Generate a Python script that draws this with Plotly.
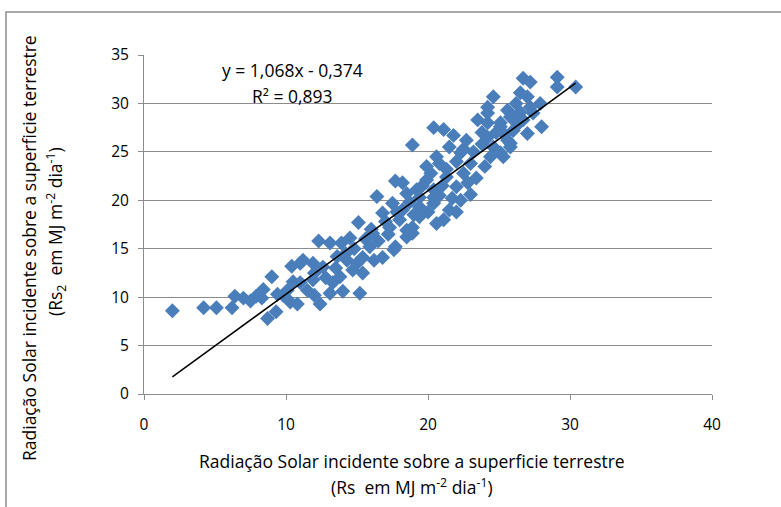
import plotly.graph_objects as go

# Observed data: Rs (x) vs Rs2 (y), MJ m-2 dia-1
rs = [2.0, 4.2, 5.1, 6.2, 6.4, 7.0, 7.5, 7.9, 8.4, 9.0, 8.7, 9.3, 9.4, 8.3, 10.3, 10.4, 10.5, 10.1,
      11.0, 11.2, 11.9, 11.9, 11.0, 11.5, 12.3, 12.4, 12.6, 13.1, 13.9, 14.5, 13.8, 13.3, 13.1, 14.0,
      14.3, 14.7, 15.0, 15.2, 15.4, 15.4, 15.1, 15.9, 16.1, 16.4, 16.8, 16.8, 17.3, 17.5, 17.7, 17.7,
      18.0, 18.2, 18.5, 18.5, 18.5, 18.9, 18.9, 18.9, 19.2, 19.4, 19.4, 19.4, 19.9, 19.9, 20.4, 20.4,
      20.4, 20.4, 20.6, 20.6, 20.8, 21.1, 21.1, 21.3, 21.5, 21.5, 21.8, 22.0, 22.3, 22.3, 22.5, 22.7,
      23.0, 23.0, 23.5, 24.2, 24.2, 24.2, 24.4, 24.6, 24.6, 24.2, 25.1, 25.1, 25.1, 25.3, 25.6, 25.6,
      25.8, 25.8, 25.8, 26.0, 26.0, 26.5, 26.5, 26.7, 26.7, 27.0, 27.0, 27.2, 27.2, 27.4, 27.9, 28.0,
      29.1, 29.1, 30.4,
      12.0, 12.8, 13.5, 14.2, 14.8, 15.6, 16.0, 16.5, 17.0, 17.2, 17.8, 18.2, 18.7, 19.0, 19.6, 20.0,
      20.2, 20.8, 21.0, 21.3, 21.7, 22.0, 22.5, 22.8, 23.2, 23.4, 23.8, 24.0, 24.8, 25.4, 26.2, 26.3,
      23.8, 22.0, 10.8, 9.8, 12.0, 13.6, 16.2, 17.6]
rs2 = [8.6, 8.9, 8.9, 8.9, 10.1, 9.9, 9.6, 10.1, 10.8, 12.1, 7.8, 8.5, 10.3, 9.9, 9.5, 13.2, 11.6, 10.7,
       13.5, 13.8, 13.5, 11.8, 11.5, 10.7, 15.8, 9.3, 13.1, 15.6, 15.6, 16.1, 12.1, 11.5, 10.4, 10.6,
       13.8, 12.8, 13.5, 10.4, 12.5, 14.1, 17.7, 15.2, 16.6, 20.4, 18.7, 14.1, 17.2, 19.7, 22.0, 15.2,
       18.0, 21.8, 20.7, 16.9, 16.2, 17.2, 16.6, 25.7, 21.1, 19.3, 20.3, 18.3, 22.1, 23.5, 20.3, 21.1,
       19.7, 27.5, 24.5, 17.6, 23.8, 27.3, 18.0, 22.4, 25.5, 19.0, 26.7, 21.4, 24.9, 20.0, 22.8, 26.2,
       23.8, 20.6, 28.3, 29.0, 28.0, 26.5, 24.5, 25.5, 30.7, 29.6, 28.0, 27.6, 24.9, 24.5, 29.3, 26.2,
       28.6, 25.9, 25.5, 28.6, 27.2, 29.1, 31.1, 32.6, 28.3, 30.7, 26.9, 32.2, 29.6, 29.0, 30.0, 27.6,
       32.7, 31.7, 31.7,
       12.5, 12.0, 13.0, 14.5, 15.0, 16.0, 17.0, 15.8, 17.8, 16.5, 18.8, 19.0, 19.8, 18.5, 21.5, 18.8,
       22.8, 20.5, 21.5, 23.2, 20.2, 24.0, 25.3, 21.8, 25.0, 22.3, 27.0, 23.5, 27.0, 26.8, 30.0, 27.8,
       25.8, 18.8, 9.3, 10.2, 10.2, 14.2, 13.8, 14.9]

# Linear trend shown on the chart
slope = 1.068
intercept = -0.374
trend_x = [min(rs), max(rs)]
trend_y = [slope * v + intercept for v in trend_x]

x_ticks = [0, 10, 20, 30, 40]
y_ticks = [0, 5, 10, 15, 20, 25, 30, 35]

FONT = "Open Sans"
TICK_FS = 15.5
TITLE_FS = 17.5
EQ_FS = 17.5
GRID = "#8c8c8c"

fig = go.Figure()
fig.add_trace(go.Scatter(
    x=rs, y=rs2, mode="markers",
    marker=dict(symbol="diamond", size=11.5, color="#4A7EBB", line=dict(width=0)),
    showlegend=False, hoverinfo="x+y"))
fig.add_trace(go.Scatter(
    x=trend_x, y=trend_y, mode="lines",
    line=dict(color="black", width=1.5), showlegend=False))

fig.update_layout(
    width=781, height=507,
    margin=dict(l=144, r=69, t=55, b=113),
    paper_bgcolor="white", plot_bgcolor="white",
    font=dict(family=FONT, size=TICK_FS, color="black"),
    xaxis=dict(range=[0, 40], tickvals=x_ticks, showgrid=False, zeroline=False,
               showline=True, linecolor=GRID, linewidth=1,
               ticks="outside", ticklen=5, tickcolor=GRID, ticklabelstandoff=11,
               tickfont=dict(family=FONT, size=TICK_FS)),
    yaxis=dict(range=[0, 35], tickvals=y_ticks, showgrid=True, gridcolor=GRID, gridwidth=1,
               zeroline=False, showline=True, linecolor=GRID, linewidth=1,
               ticks="outside", ticklen=5, tickcolor=GRID, ticklabelstandoff=6,
               tickfont=dict(family=FONT, size=TICK_FS)),
)

def px_x(p):
    return (p - 144) / 568.0

def px_y(p):
    return (394 - p) / 339.0

annotations = [
    dict(text="y = 1,068x - 0,374", x=px_x(292), y=px_y(70), fs=EQ_FS),
    dict(text="R² = 0,893", x=px_x(292), y=px_y(96), fs=EQ_FS),
    dict(text="Radiação Solar incidente sobre a superficie terrestre", x=px_x(412), y=px_y(461), fs=TITLE_FS),
    dict(text="(Rs  em MJ m<sup>-2</sup> dia<sup>-1</sup>)", x=px_x(412), y=px_y(486), fs=TITLE_FS),
    dict(text="Radiação Solar incidente sobre a superficie terrestre", x=px_x(29), y=px_y(248), fs=TITLE_FS, textangle=-90),
    dict(text="(Rs<sub>2</sub>  em MJ m<sup>-2</sup> dia<sup>-1</sup>)", x=px_x(56), y=px_y(232), fs=TITLE_FS, textangle=-90),
]
for a in annotations:
    fs = a.pop("fs")
    fig.add_annotation(xref="paper", yref="paper", showarrow=False,
                       xanchor="center", yanchor="middle",
                       font=dict(family=FONT, size=fs, color="black"), **a)

fig.add_shape(type="rect", xref="paper", yref="paper",
              x0=px_x(6), x1=px_x(790), y0=px_y(520), y1=px_y(12),
              line=dict(color="#8c8c8c", width=1.5), layer="below")

fig.write_html("out.html", config={"displayModeBar": False},
               post_script="document.body.style.margin='0';document.body.style.overflow='hidden';")
